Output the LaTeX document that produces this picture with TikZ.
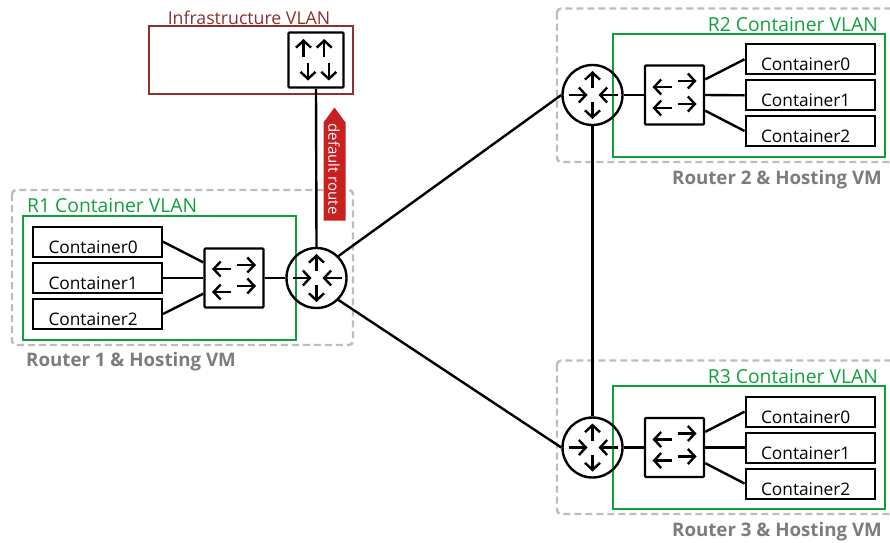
\documentclass[tikz,border=0pt]{standalone}
\usepackage{fontspec}
\setmainfont{Open Sans}
\usetikzlibrary{arrows.meta}
\definecolor{vlangreen}{HTML}{12A03C}
\definecolor{infrared}{HTML}{8F2F2B}
\definecolor{routered}{HTML}{C8201F}
\definecolor{vmgray}{HTML}{BDBDBD}
\definecolor{vmtext}{HTML}{7C7C7C}
\tikzset{
  link/.style={line width=2.4pt},
  icon/.style={line width=2.4pt, -{Straight Barb[length=7pt,width=15pt]}},
  routernode/.style={circle, draw, line width=2.4pt, minimum size=60pt, inner sep=0pt},
  switchnode/.style={rectangle, draw, rounded corners=1pt, line width=2.4pt, minimum size=59pt, inner sep=0pt},
  containernode/.style={rectangle, draw, line width=2pt, minimum height=30pt, inner ysep=0pt, inner xsep=15.5pt,
    text width=98pt, align=left, text height=23pt, text depth=0pt, font=\fontsize{17.3}{20}\selectfont},
  vmbox/.style={draw=vmgray, line width=2.4pt, dash pattern=on 7pt off 4pt, rounded corners=4pt},
  greenbox/.style={draw=vlangreen, line width=2pt},
  greentext/.style={vlangreen, inner sep=0pt, font=\fontsize{19.3}{22}\selectfont},
  vmtitle/.style={vmtext, inner sep=0pt, font=\fontsize{18.7}{22}\selectfont\bfseries},
  routericon/.pic={
    \draw[icon] (0,-7) -- (0,-24);
    \draw[icon] (0,7) -- (0,24);
    \draw[icon] (-24,0) -- (-5,0);
    \draw[icon] (25,0) -- (6,0);
  },
  switchicon/.pic={
    \draw[icon] (-3,-8) -- (-22,-8);
    \draw[icon] (3,-14) -- (22,-14);
    \draw[icon] (-3,13) -- (-22,13);
    \draw[icon] (3,9) -- (22,9);
  },
  infraicon/.pic={
    \draw[icon] (-12.5,-3) -- (-12.5,-21);
    \draw[icon] (8.2,-3) -- (8.2,-21);
    \draw[icon] (-8,2.5) -- (-8,20.5);
    \draw[icon] (12.8,2.5) -- (12.8,20.5);
  },
}
\begin{document}
\begin{tikzpicture}[x=1pt, y=-1pt]
\useasboundingbox (0,0) rectangle (890,542);
% hosting VMs
\draw[vmbox] (12,190) rectangle (353,345);
\draw[vmbox] (557,8.5) rectangle (900,162);
\draw[vmbox] (557,360.5) rectangle (900,514);
\node[vmtitle, anchor=base west] (vmone) at (26,366) {Router 1 \& Hosting VM};
\node[vmtitle, anchor=base east] (vmtwo) at (882,184) {Router 2 \& Hosting VM};
\node[vmtitle, anchor=base east] (vmthree) at (882,536) {Router 3 \& Hosting VM};
% VLANs
\draw[infrared, line width=2pt] (148.5,26) rectangle (352.5,94);
\node[infrared, inner sep=0pt, anchor=base, font=\fontsize{17.7}{20}\selectfont] (infratitle) at (249,24) {Infrastructure VLAN};
\draw[greenbox] (22.5,216) rectangle (296,340);
\draw[greenbox] (613,33.5) rectangle (884.5,156.5);
\draw[greenbox] (613,386) rectangle (884.5,508.5);
\node[greentext, anchor=base west] (vlanone) at (27,212) {R1 Container VLAN};
\node[greentext, anchor=base east] (vlantwo) at (878,31) {R2 Container VLAN};
\node[greentext, anchor=base east] (vlanthree) at (878,383) {R3 Container VLAN};
% default route
\fill[routered] (334.5,107.5) -- (345.5,122.5) -- (345.5,220.5) -- (323.5,220.5) -- (323.5,122.5) -- cycle;
\node[white, rotate=-90, inner sep=0pt, font=\fontsize{15}{17}\selectfont] (routelabel) at (334,169) {default route};
% routers and switches
\node[routernode] (rone) at (316.5,278) {};
\node[routernode] (rtwo) at (592.5,95) {};
\node[routernode] (rthree) at (592.5,447.5) {};
\node[switchnode] (swone) at (234,278) {};
\node[switchnode] (swtwo) at (674.5,95) {};
\node[switchnode] (swthree) at (674.5,447.5) {};
\node[switchnode, minimum size=55pt] (swinfra) at (316,60) {};
\pic at (rone) {routericon};
\pic at (rtwo) {routericon};
\pic at (rthree) {routericon};
\pic[xscale=-1, yscale=-1] at (swone) {switchicon};
\pic at (swtwo) {switchicon};
\pic at (swthree) {switchicon};
\pic at (swinfra) {infraicon};
% containers
\node[containernode] (cone0) at (97.5,241.7) {Container0};
\node[containernode] (cone1) at (97.5,278) {Container1};
\node[containernode] (cone2) at (97.5,314) {Container2};
\node[containernode] (ctwo0) at (810,59.3) {Container0};
\node[containernode] (ctwo1) at (810,95.3) {Container1};
\node[containernode] (ctwo2) at (810,131) {Container2};
\node[containernode] (cthree0) at (810,411.7) {Container0};
\node[containernode] (cthree1) at (810,447.5) {Container1};
\node[containernode] (cthree2) at (810,483.5) {Container2};
% links
\draw[link] (cone0.east) -- (swone.153);
\draw[link] (cone1.east) -- (swone.west);
\draw[link] (cone2.east) -- (swone.207);
\draw[link] (ctwo0.west) -- (swtwo.27);
\draw[link] (ctwo1.west) -- (swtwo.east);
\draw[link] (ctwo2.west) -- (swtwo.-27);
\draw[link] (cthree0.west) -- (swthree.27);
\draw[link] (cthree1.west) -- (swthree.east);
\draw[link] (cthree2.west) -- (swthree.-27);
\draw[link] (swone) -- (rone);
\draw[link] (swtwo) -- (rtwo);
\draw[link] (swthree) -- (rthree);
\draw[link] (swinfra.south) -- (rone.north);
\draw[link] (rone.45) -- (rtwo.west);
\draw[link] (rone.-45) -- (rthree.west);
\draw[link] (rtwo.south) -- (rthree.north);
\end{tikzpicture}
\end{document}
